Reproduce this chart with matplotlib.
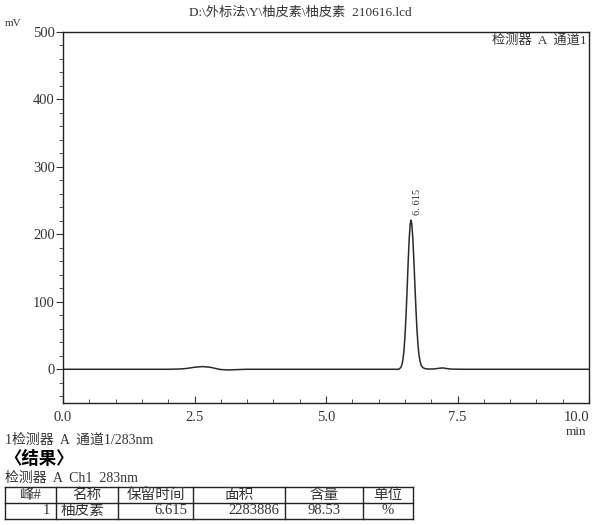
import numpy as np
import matplotlib
matplotlib.use('Agg')
import matplotlib.pyplot as plt
from matplotlib.ticker import MultipleLocator

plt.rcParams['font.family'] = ['Liberation Serif', 'Noto Sans CJK SC', 'DejaVu Sans']

# chromatogram trace (min, mV)
t = [0.0, 1.0, 2.0, 2.2, 2.35, 2.5, 2.65, 2.8, 2.9, 3.0, 3.15, 3.3, 3.5, 4.5, 5.5, 6.2,
     6.38, 6.40, 6.42, 6.44, 6.46, 6.48, 6.50, 6.52, 6.54, 6.56, 6.58, 6.60, 6.615,
     6.63, 6.65, 6.67, 6.69, 6.71, 6.73, 6.75, 6.77, 6.79, 6.81, 6.84, 6.88, 6.95,
     7.05, 7.15, 7.22, 7.30, 7.40, 7.60, 8.5, 9.5, 10.0]
mv = [0.0, 0.0, 0.0, 0.3, 1.2, 3.0, 4.0, 3.0, 1.2, -0.4, -1.0, -0.5, 0.0, 0.0, 0.0, 0.0,
      0.0, 1.0, 2.5, 6, 13, 26, 47, 77, 114, 155, 191, 215, 221,
      216, 195, 162, 125, 89, 58, 35, 20, 11, 6, 2.5, 1.0, 0.3,
      0.5, 1.5, 2.0, 1.0, 0.2, 0.0, 0.0, 0.0, 0.0]

peak_time = 6.615
peak_height = 221

x_ticks = [0.0, 2.5, 5.0, 7.5, 10.0]
y_ticks = [0, 100, 200, 300, 400, 500]

col_edges = [5, 56, 118, 193, 285, 363, 413]
headers = ['峰#', '名称', '保留时间', '面积', '含量', '单位']
row = ['1', '柚皮素', '6.615', '2283886', '98.53', '%']
row_align = ['right', 'left', 'right', 'right', 'center', 'center']

W, H = 600, 525
fig = plt.figure(figsize=(6, 5.25), dpi=100)
ax = fig.add_axes([63 / W, 1 - 403 / H, (589 - 63) / W, (403 - 32) / H])

ax.plot(t, mv, color='#2a2a2a', lw=1.1)
ax.set_xlim(0, 10)
ax.set_ylim(-50, 500)
ax.set_xticks(x_ticks)
ax.set_xticklabels(['%.1f' % v for v in x_ticks])
ax.set_yticks(y_ticks)
ax.xaxis.set_minor_locator(MultipleLocator(0.5))
ax.yaxis.set_minor_locator(MultipleLocator(20))
ax.tick_params(axis='x', which='major', direction='in', length=5, labelsize=10.5, pad=6,
               colors='#333333')
ax.tick_params(axis='x', which='minor', direction='in', length=3, colors='#333333')
ax.tick_params(axis='y', which='major', direction='out', length=5, labelsize=10.5, pad=1,
               colors='#333333')
ax.tick_params(axis='y', which='minor', direction='out', length=3, colors='#333333')
for s in ax.spines.values():
    s.set_linewidth(1.0)
    s.set_color('#222222')
ax.get_xticklabels()[-1].set_horizontalalignment('right')

ax.text(peak_time + 0.12, peak_height + 8, '6. 615', rotation=90,
        ha='center', va='bottom', fontsize=7.5, color='#333333')
ax.text(0.995, 0.993, '检测器  A  通道1', transform=ax.transAxes, ha='right', va='top',
        fontsize=9.5, color='#333333')

def px(x, y):
    return x / W, 1 - y / H

fig.text(*px(300, 13), r'D:\外标法\Y\柚皮素\柚皮素  210616.lcd', ha='center', va='center',
         fontsize=9.5, color='#333333')
fig.text(*px(13, 23), 'mV', ha='center', va='center', fontsize=8, color='#333333')
fig.text(*px(576, 432), 'min', ha='center', va='center', fontsize=9.5, color='#333333')
fig.text(*px(5, 440), '1检测器  A  通道1/283nm', ha='left', va='center', fontsize=10,
         color='#333333')
fig.text(*px(4, 459), '〈结果〉', ha='left', va='center', fontsize=12.5, fontweight='bold')
fig.text(*px(5, 478), '检测器  A  Ch1  283nm', ha='left', va='center', fontsize=10,
         color='#333333')

# result table
top, mid, bot = 487, 503, 519
for y in (top, mid, bot):
    fig.add_artist(plt.Line2D([col_edges[0] / W, col_edges[-1] / W], [1 - y / H] * 2,
                              color='#222222', lw=1.0))
for x in col_edges:
    fig.add_artist(plt.Line2D([x / W] * 2, [1 - top / H, 1 - bot / H],
                              color='#222222', lw=1.0))
for i, h in enumerate(headers):
    xc = (col_edges[i] + col_edges[i + 1]) / 2
    fig.text(*px(xc, (top + mid) / 2), h, ha='center', va='center', fontsize=10.5,
             color='#333333')
for i, v in enumerate(row):
    a = row_align[i]
    if a == 'right':
        xx = col_edges[i + 1] - 6
    elif a == 'left':
        xx = col_edges[i] + 5
    else:
        xx = (col_edges[i] + col_edges[i + 1]) / 2
    fig.text(*px(xx, (mid + bot) / 2), v, ha=a, va='center', fontsize=10.5,
             color='#333333')

fig.savefig('out.png', dpi=100)
